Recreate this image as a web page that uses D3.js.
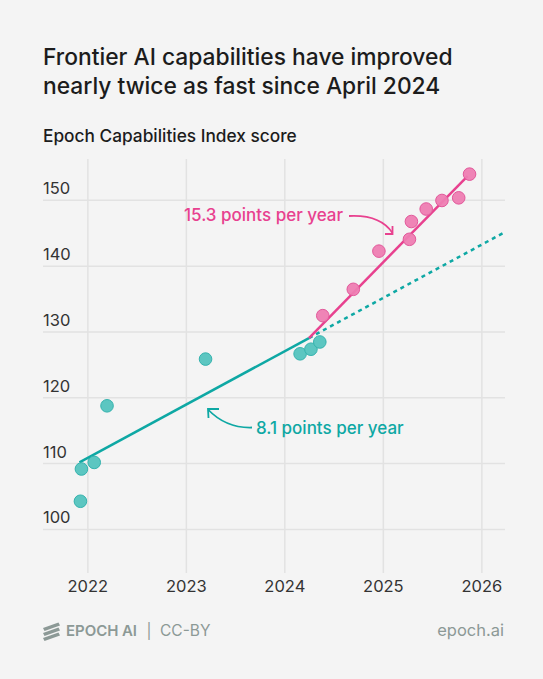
<!DOCTYPE html>
<html><head><meta charset="utf-8">
<script src="https://cdn.jsdelivr.net/npm/d3@7"></script>
<style>
html,body{margin:0;padding:0;background:#f4f4f4;}
svg{display:block;font-family:Inter,"Noto Sans",sans-serif;}
</style></head>
<body><svg id="c" width="543" height="679"></svg>
<script>
// ---- data ----
const yearTicks = [2022, 2023, 2024, 2025, 2026];
const scoreTicks = [100, 110, 120, 130, 140, 150];
const tealYears  = [2021.93, 2021.94, 2022.07, 2022.20, 2023.20, 2024.16, 2024.27, 2024.36];
const tealScores = [104.2, 109.1, 110.1, 118.7, 125.8, 126.6, 127.3, 128.4];
const pinkYears  = [2024.39, 2024.70, 2024.96, 2025.27, 2025.29, 2025.44, 2025.60, 2025.77, 2025.88];
const pinkScores = [132.4, 136.4, 142.2, 144.0, 146.7, 148.6, 149.9, 150.3, 153.9];
const tealTrend     = [[2021.92, 110.1], [2024.25, 129.0]];
const tealProjected = [[2024.25, 129.0], [2026.24, 145.1]];
const pinkTrend     = [[2024.25, 129.0], [2025.86, 153.6]];
const tealLabel = "8.1 points per year";
const pinkLabel = "15.3 points per year";

// ---- styles ----
const TEAL = "#0ea8a4", TEAL_FILL = "#5cc6c1", TEAL_STROKE = "#35b3ae";
const PINK = "#e8418f", PINK_FILL = "#ee7db2", PINK_STROKE = "#e2599b";
const GRID = "#e2e2e2", FOOT = "#8c9996";
const FONT = "Inter,'Noto Sans',sans-serif";

const svg = d3.select("#c");
svg.append("rect").attr("width", 543).attr("height", 679).attr("fill", "#f4f4f4");

// Title
const title = svg.append("text").attr("x", 43).attr("fill", "#1c1c1c")
  .attr("font-size", 22.8).attr("font-weight", 500);
title.append("tspan").attr("x", 43).attr("y", 65).text("Frontier AI capabilities have improved");
title.append("tspan").attr("x", 43).attr("y", 94).text("nearly twice as fast since April 2024");
svg.append("text").attr("x", 43).attr("y", 142).attr("fill", "#1c1c1c")
  .attr("font-size", 17.3).attr("font-weight", 500).text("Epoch Capabilities Index score");

// Scales
const L = 43, R = 505, T = 159, B = 573;
const x = d3.scaleLinear().domain([2021.55, 2026.24]).range([L, R]);
const y = d3.scaleLinear().domain([93.3, 156.2]).range([B, T]);

// Vertical gridlines + x labels
const xAxis = svg.append("g").attr("transform", `translate(0,${B})`)
  .call(d3.axisBottom(x).tickValues(yearTicks).tickFormat(d3.format("d")).tickSize(-(B - T)).tickPadding(0));
xAxis.select(".domain").remove();
xAxis.selectAll(".tick line").attr("stroke", GRID).attr("stroke-width", 1.5);
xAxis.selectAll(".tick text").attr("fill", "#333").attr("font-size", 16.5)
  .attr("font-family", FONT).attr("dy", 0).attr("y", 19);

// Horizontal gridlines + y labels
const yAxis = svg.append("g").attr("transform", `translate(${L},0)`)
  .call(d3.axisRight(y).tickValues(scoreTicks).tickSize(R - L).tickPadding(0));
yAxis.select(".domain").remove();
yAxis.selectAll(".tick line").attr("stroke", GRID).attr("stroke-width", 1.5);
yAxis.selectAll(".tick text").attr("fill", "#333").attr("font-size", 16.5)
  .attr("font-family", FONT)
  .attr("x", 0).attr("dy", -6).attr("text-anchor", "start");

// Trend lines
const line = d3.line().x(d => x(d[0])).y(d => y(d[1]));
svg.append("path").datum(tealProjected).attr("d", line).attr("fill", "none")
  .attr("stroke", TEAL).attr("stroke-width", 2.5).attr("stroke-dasharray", "4,4");
svg.append("path").datum(tealTrend).attr("d", line).attr("fill", "none")
  .attr("stroke", TEAL).attr("stroke-width", 2.5);
svg.append("path").datum(pinkTrend).attr("d", line).attr("fill", "none")
  .attr("stroke", PINK).attr("stroke-width", 2.5);

// Points
svg.append("g").selectAll("circle").data(d3.zip(tealYears, tealScores)).join("circle")
  .attr("cx", d => x(d[0])).attr("cy", d => y(d[1])).attr("r", 6.3)
  .attr("fill", TEAL_FILL).attr("stroke", TEAL_STROKE).attr("stroke-width", 1);
svg.append("g").selectAll("circle").data(d3.zip(pinkYears, pinkScores)).join("circle")
  .attr("cx", d => x(d[0])).attr("cy", d => y(d[1])).attr("r", 6.3)
  .attr("fill", PINK_FILL).attr("stroke", PINK_STROKE).attr("stroke-width", 1).attr("fill-opacity", 0.95);

// Annotations
svg.append("text").attr("x", 184).attr("y", 221).attr("fill", PINK).attr("font-size", 17)
  .attr("font-weight", 450).text(pinkLabel);
svg.append("path").attr("d", "M349,216 C368,215 384,220 392.5,233").attr("fill", "none")
  .attr("stroke", PINK).attr("stroke-width", 1.8);
svg.append("path").attr("d", "M392.5,226 L392.5,234 L385,234").attr("fill", "none")
  .attr("stroke", PINK).attr("stroke-width", 1.8).attr("stroke-linejoin", "miter");

svg.append("text").attr("x", 256).attr("y", 434).attr("fill", TEAL).attr("font-size", 17)
  .attr("font-weight", 450).text(tealLabel);
svg.append("path").attr("d", "M252,427.5 C236,428 220,422 208,409.5").attr("fill", "none")
  .attr("stroke", TEAL).attr("stroke-width", 1.8);
svg.append("path").attr("d", "M219,409 L208,409 L208.5,418").attr("fill", "none")
  .attr("stroke", TEAL).attr("stroke-width", 1.8);

// Footer
const logo = svg.append("g").attr("fill", FOOT);
[0, 5, 10].forEach(dy => {
  logo.append("path").attr("d", `M43,${628 + dy} L58.5,${622.5 + dy} L60,${625.5 + dy} L44.5,${631 + dy} Z`);
});
svg.append("text").attr("x", 66).attr("y", 636).attr("fill", FOOT).attr("font-size", 15)
  .attr("font-weight", 600).attr("textLength", 71).text("EPOCH AI");
svg.append("text").attr("x", 149).attr("y", 636).attr("fill", FOOT).attr("font-size", 15)
  .attr("text-anchor", "middle").text("|");
svg.append("text").attr("x", 160).attr("y", 636).attr("fill", FOOT).attr("font-size", 15.5).text("CC-BY");
svg.append("text").attr("x", 504).attr("y", 636).attr("fill", FOOT).attr("font-size", 16.5)
  .attr("text-anchor", "end").text("epoch.ai");
</script></body></html>
